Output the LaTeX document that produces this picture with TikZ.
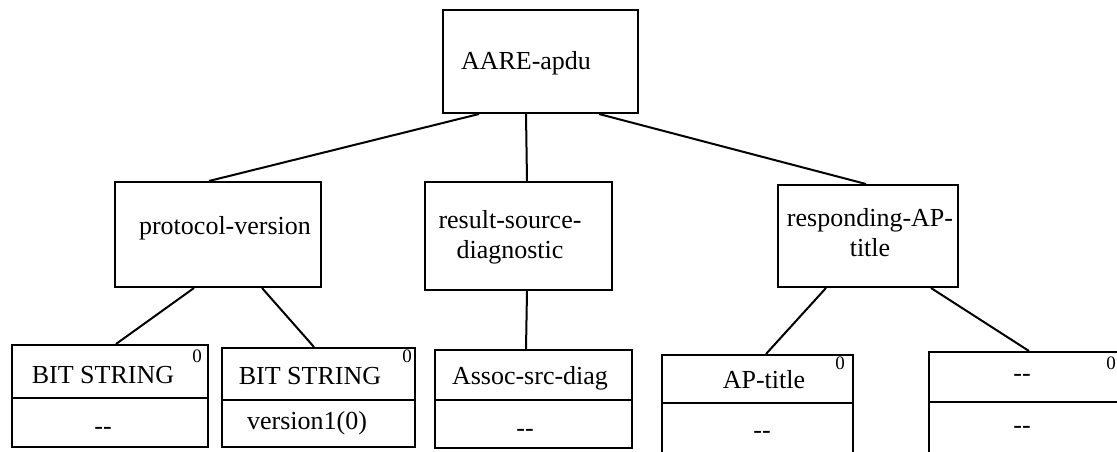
\documentclass[tikz,border=0pt]{standalone}
\usepackage{fontspec}
\setmainfont{Liberation Serif}
\begin{document}
\begin{tikzpicture}[x=1pt,y=-1pt,
  box/.style={draw=black,line width=2pt,inner sep=0pt,minimum width=#1},
  conn/.style={draw=black,line width=2pt},
  lbl/.style={inner sep=0pt,font=\fontsize{26}{30}\selectfont,align=center},
  sup/.style={inner sep=0pt,font=\fontsize{19}{22}\selectfont}]
\clip (0,0) rectangle (1117,452);
\fill[white] (0,0) rectangle (1117,452);
% top level
\node[box=195pt,minimum height=103pt] (top) at (540.5,61.5) {};
\node[lbl] (ttop) at (526,63) {AARE-apdu};
% middle level
\node[box=206pt,minimum height=105pt] (pv) at (218,234.5) {};
\node[lbl] (tpv) at (225,228) {protocol-version};
\node[box=187pt,minimum height=108pt] (rsd) at (518.5,236) {};
\node[lbl] (trsd) at (510,237) {result-source-\\diagnostic};
\node[box=180pt,minimum height=102pt] (rat) at (868,236) {};
\node[lbl] (trat) at (870,233) {responding-AP-\\title};
% bottom level
\node[box=196pt,minimum height=102pt] (b1) at (110,396) {};
\draw[conn] (b1.west |- 0,398) -- (b1.east |- 0,398);
\node[lbl] (b1a) at (103,375) {BIT STRING};
\node[sup] (b1s) at (197,356) {0};
\node[lbl] (b1b) at (103,431) {{-}{-}};
\node[box=193pt,minimum height=99pt] (b2) at (318.5,397.5) {};
\draw[conn] (b2.west |- 0,400) -- (b2.east |- 0,400);
\node[lbl] (b2a) at (310,376) {BIT STRING};
\node[sup] (b2s) at (407,356) {0};
\node[lbl] (b2b) at (307,423) {version1(0)};
\node[box=197pt,minimum height=98pt] (b3) at (533.5,399) {};
\draw[conn] (b3.west |- 0,400) -- (b3.east |- 0,400);
\node[lbl] (b3a) at (530,378) {Assoc-src-diag};
\node[lbl] (b3b) at (525,433) {{-}{-}};
\node[box=191pt,minimum height=105pt] (b4) at (757.5,407.5) {};
\draw[conn] (b4.west |- 0,403) -- (b4.east |- 0,403);
\node[lbl] (b4a) at (764,380) {AP-title};
\node[sup] (b4s) at (840,363) {0};
\node[lbl] (b4b) at (762,435) {{-}{-}};
\node[box=201pt,minimum height=108pt] (b5) at (1029.5,406) {};
\draw[conn] (b5.west |- 0,402) -- (b5.east |- 0,402);
\node[lbl] (b5a) at (1022,378) {{-}{-}};
\node[sup] (b5s) at (1111,363) {0};
\node[lbl] (b5b) at (1022,430) {{-}{-}};
% connectors
\draw[conn] ([xshift=37pt]top.south west) -- ([xshift=95pt]pv.north west);
\draw[conn] ([xshift=84pt]top.south west) -- ([xshift=103pt]rsd.north west);
\draw[conn] ([xshift=157pt]top.south west) -- ([xshift=89pt]rat.north west);
\draw[conn] ([xshift=80pt]pv.south west) -- ([xshift=105pt]b1.north west);
\draw[conn] ([xshift=148pt]pv.south west) -- ([xshift=93pt]b2.north west);
\draw[conn] ([xshift=103pt]rsd.south west) -- ([xshift=92pt]b3.north west);
\draw[conn] ([xshift=49pt]rat.south west) -- ([xshift=105pt]b4.north west);
\draw[conn] ([xshift=154pt]rat.south west) -- ([xshift=101pt]b5.north west);
\end{tikzpicture}
\end{document}
